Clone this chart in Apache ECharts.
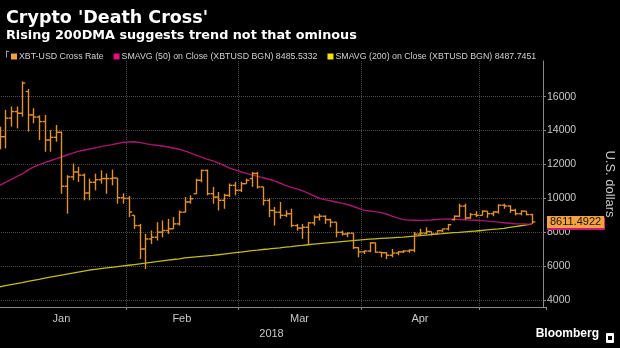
<!DOCTYPE html>
<html><head><meta charset="utf-8">
<script src="https://cdn.jsdelivr.net/npm/echarts@6/dist/echarts.min.js"></script>
<style>html,body{margin:0;padding:0;background:#000;}#c{width:620px;height:348px;}</style>
</head><body><div id="c"></div>
<script>
// ---- data ----
const monthNames = ['Jan','Feb','Mar','Apr','May'];
const labeledMonths = ['Jan','Feb','Mar','Apr'];
const janDays = [1,2,3,4,5,8,9,10,11,12,15,16,17,18,19,22,23,24,25,26,29,30,31];
const febDays = [1,2,5,6,7,8,9,12,13,14,15,16,19,20,21,22,23,26,27,28];
const marDays = [1,2,5,6,7,8,9,12,13,14,15,16,19,20,21,22,23,26,27,28,29,30];
const aprDays = [2,3,4,5,6,9,10,11,12,13,16,17,18,19,20,23,24,25,26,27,30];
const mayDays = [1,2,3,4,7,8,9,10,11,14,15,16];
const yearLabel = '2018';
const yTicks = [4000,6000,8000,10000,12000,14000,16000];

const priceOpen = [13800,13640,14730,15120,15020,16300,14920,14800,14530,13440,13600,13900,10720,11270,11560,11370,10320,10950,11100,11170,11170,11200,10040,10000,9000,8400,7020,7610,7710,8010,8110,8210,8500,9190,9790,10280,11070,11650,10280,10080,9890,10180,10770,10480,10870,11170,11470,10680,9880,9290,9190,9000,9100,8400,8250,8300,8560,8900,8950,8750,8600,8000,7900,7950,7100,6850,6900,7380,6830,6800,6650,6780,6850,6900,6950,7900,7950,8050,7900,8100,8200,8750,8950,9550,8850,9050,9000,9250,9100,9200,9600,9550,9300,9100,9250,9050];
const priceHigh = [14230,15220,15420,15420,16900,16450,15320,14900,14920,14030,14330,13940,11370,12060,11860,11470,11170,11460,11660,11470,11700,11200,10300,10150,9000,8500,7910,8110,8600,8700,8800,8900,9290,10080,10180,11170,11700,11700,10680,10380,10280,10880,10980,10980,11170,11560,11560,10680,9990,9500,9790,9300,9400,8500,8500,8600,9000,9100,9000,8800,8600,8110,8010,7950,7120,6930,7420,7400,6850,6830,7020,6900,6950,7000,8010,8210,8300,8050,8110,8210,8500,9000,9690,9690,9150,9250,9300,9250,9250,9650,9690,9590,9390,9290,9250,9090];
const priceLow = [12900,12950,14230,14130,14820,13940,14430,13440,12750,12750,13340,10280,9100,11070,10970,9890,9890,10480,10870,10280,10770,9690,9690,8900,8200,6430,5840,7320,7520,7710,7910,8200,8400,9190,9690,10280,10950,10180,9690,9290,9390,10080,10180,10380,10870,10680,10580,9590,8900,8400,8800,8900,8300,8100,7620,7320,8400,8700,8500,8300,7710,7810,7710,7020,6530,6720,6830,6800,6530,6430,6530,6650,6780,6800,6830,7810,7900,7810,7900,8010,8110,8700,8900,8750,8800,8900,9000,8850,8950,9100,9390,9150,9000,9000,9000,8500];
const priceClose = [13640,14730,15120,15020,16800,14920,14800,14530,13440,13600,13900,10720,11270,11560,11370,10320,10950,11100,11170,11170,11200,10040,10000,9200,8400,7020,7610,7710,8010,8110,8210,8500,9190,9790,9980,11070,11650,10280,10080,9890,10180,10770,10480,10870,11070,11470,10680,9880,9290,9190,9000,9100,8400,8250,8300,8560,8900,8950,8750,8600,8000,7900,7950,7100,6850,6900,7380,6830,6800,6650,6780,6850,6900,6950,7900,7950,8050,7900,8100,8200,8450,8950,9550,8850,9050,9000,9250,9100,9200,9600,9550,9300,9100,9250,9050,8611.4922];
const sma50 = [10770,10940,11110,11280,11440,11670,11850,11980,12110,12220,12330,12440,12560,12670,12770,12840,12910,12980,13050,13110,13170,13240,13300,13330,13340,13300,13230,13170,13130,13090,13030,12970,12900,12800,12680,12550,12430,12320,12210,12090,11950,11790,11680,11570,11480,11390,11300,11220,11130,11040,10910,10770,10650,10560,10460,10310,10160,10010,9930,9860,9790,9720,9640,9540,9420,9310,9260,9220,9180,9080,8960,8850,8750,8720,8710,8700,8710,8730,8760,8780,8790,8780,8760,8740,8720,8710,8690,8660,8630,8600,8570,8540,8510,8500,8490,8485.5332];
const sma200 = [4790,4860,4920,4980,5040,5110,5170,5230,5300,5360,5420,5480,5540,5600,5660,5720,5780,5820,5860,5900,5940,5980,6020,6060,6100,6140,6180,6230,6270,6320,6360,6400,6440,6490,6520,6550,6580,6610,6640,6680,6720,6760,6800,6840,6880,6920,6950,6990,7020,7060,7090,7130,7160,7200,7230,7270,7300,7330,7360,7390,7420,7450,7480,7510,7540,7570,7600,7620,7640,7660,7680,7700,7720,7750,7780,7810,7840,7870,7900,7920,7950,7980,8000,8030,8060,8080,8110,8140,8170,8200,8240,8290,8340,8390,8440,8487.7451];

// ---- build ----
const categories = [];
[[1,janDays],[2,febDays],[3,marDays],[4,aprDays],[5,mayDays]].forEach(function(p){
  p[1].forEach(function(d){ categories.push('2018-' + String(p[0]).padStart(2,'0') + '-' + String(d).padStart(2,'0')); });
});
const monthOf = function(s){ return parseInt(s.slice(5,7),10) - 1; };
const firstOfMonth = {};
categories.forEach(function(c,i){ if (i > 0 && monthOf(c) !== monthOf(categories[i-1])) firstOfMonth[i] = true; });
const labelAt = {};
labeledMonths.forEach(function(m){
  const mi = monthNames.indexOf(m);
  let first = -1, last = -1;
  categories.forEach(function(c,i){ if (monthOf(c) === mi) { if (first < 0) first = i; last = i; } });
  const b = (first + last + 1) / 2;
  if (Number.isInteger(b)) labelAt[b] = {text: m, shift: true};
  else labelAt[b - 0.5] = {text: m, shift: false};
});

const ohlc = priceClose.map(function(c,i){ return [i, priceOpen[i], priceHigh[i], priceLow[i], c]; });
const lastClose = priceClose[priceClose.length-1];
const last50 = sma50[sma50.length-1];
const last200 = sma200[sma200.length-1];
const nPrice = 'XBT-USD Cross Rate';
const n50 = 'SMAVG (50) on Close (XBTUSD BGN) ' + last50.toFixed(4);
const n200 = 'SMAVG (200) on Close (XBTUSD BGN) ' + last200.toFixed(4);

const priceColor = '#e0902c';
const gridLeft = -3, gridRightEdge = 546;
const bandW = (gridRightEdge - gridLeft) / categories.length;
const sans = '"Liberation Sans", Arial, sans-serif';
const labelGray = '#c8c8c8';

const chart = echarts.init(document.getElementById('c'), null, {renderer: 'canvas'});
chart.setOption({
  backgroundColor: '#000',
  animation: false,
  title: [
    {text: "Crypto 'Death Cross'", left: 1, top: 4, textStyle: {color: '#fff', fontFamily: '"DejaVu Sans", sans-serif', fontWeight: 'bold', fontSize: 17.5}},
    {text: 'Rising 200DMA suggests trend not that ominous', left: 1, top: 24, textStyle: {color: '#fff', fontFamily: '"DejaVu Sans", sans-serif', fontWeight: 'bold', fontSize: 12.8}},
    {text: 'Bloomberg', right: 16, bottom: 3, textStyle: {color: '#fff', fontFamily: sans, fontWeight: 'bold', fontSize: 12}}
  ],
  graphic: [
    {type: 'rect', right: 6, bottom: 5, shape: {width: 8, height: 10, r: 1}, style: {fill: '#fff'}},
    {type: 'rect', right: 8, bottom: 8, shape: {width: 4, height: 4}, style: {fill: '#000'}},
    {type: 'line', left: 4, top: 48, shape: {x1: 0.5, y1: 0, x2: 0.5, y2: 7}, style: {stroke: '#9a9a9a', lineWidth: 1}},
    {type: 'line', left: 4, top: 49, shape: {x1: 0, y1: 0.5, x2: 2.5, y2: 0.5}, style: {stroke: '#9a9a9a', lineWidth: 1}}
  ],
  legend: {
    left: 6, top: 47, itemWidth: 6, itemHeight: 6, itemGap: 10,
    textStyle: {color: '#d0d0d0', fontFamily: sans, fontSize: 8.8, padding: [0,0,0,-3]},
    data: [
      {name: nPrice, icon: 'rect', itemStyle: {color: '#f0a040'}},
      {name: n50, icon: 'rect', itemStyle: {color: '#e4107f'}},
      {name: n200, icon: 'rect', itemStyle: {color: '#eee600'}}
    ]
  },
  grid: {left: gridLeft, top: 61, width: gridRightEdge - gridLeft, bottom: 41, containLabel: false, outerBoundsMode: 'none'},
  xAxis: {
    type: 'category', data: categories, boundaryGap: true,
    name: yearLabel, nameLocation: 'middle', nameGap: 19,
    nameTextStyle: {color: labelGray, fontFamily: sans, fontSize: 11},
    axisLine: {show: true, lineStyle: {color: '#8a8a8a', width: 1}},
    axisTick: {show: true, length: 3, interval: function(i){ return !!firstOfMonth[i]; }, lineStyle: {color: '#8a8a8a'}},
    axisLabel: {
      color: labelGray, fontFamily: sans, fontSize: 11, margin: 6,
      interval: function(i){ return !!labelAt[i]; },
      formatter: function(v, i){ const L = labelAt[i]; if (!L) return ''; return L.shift ? '{s|' + L.text + '}' : '{n|' + L.text + '}'; },
      rich: {s: {padding: [0, bandW, 0, 0], color: labelGray, fontFamily: sans, fontSize: 11}, n: {color: labelGray, fontFamily: sans, fontSize: 11}}
    },
    splitLine: {show: true, showMaxLine: false, interval: function(i){ return !!firstOfMonth[i]; }, lineStyle: {color: '#4a4a4a', type: 'dotted'}}
  },
  yAxis: {
    type: 'value', position: 'right', offset: -3, min: 3600, max: 18100,
    name: 'U.S. dollars', nameLocation: 'middle', nameRotate: -90, nameGap: 60,
    nameTextStyle: {color: labelGray, fontFamily: sans, fontSize: 13},
    axisLine: {show: true, lineStyle: {color: '#8a8a8a'}},
    axisTick: {show: true, length: 3, customValues: yTicks, lineStyle: {color: '#8a8a8a'}},
    axisLabel: {color: labelGray, fontFamily: sans, fontSize: 10.5, margin: 4, customValues: yTicks, formatter: function(v){ return String(v); }},
    splitLine: {show: true, lineStyle: {color: '#4a4a4a', type: 'dotted'}}
  },
  series: [
    {
      name: n200, type: 'line', data: sma200, symbol: 'none', z: 2,
      itemStyle: {color: '#c3bb1e'}, lineStyle: {color: '#c3bb1e', width: 1.3}
    },
    {
      name: n50, type: 'line', data: sma50, symbol: 'none', z: 2, clip: false,
      itemStyle: {color: '#a8166f'}, lineStyle: {color: '#a8166f', width: 1.4},
      markLine: {
        silent: true, symbol: 'none', animation: false,
        lineStyle: {width: 0, color: 'rgba(0,0,0,0)'},
        label: {show: true, position: 'end', distance: 1, fontFamily: sans, fontSize: 11, padding: [1, 3, 0, 3]},
        data: [
          {yAxis: last50, label: {formatter: last50.toFixed(4), color: '#d0127a', backgroundColor: '#d0127a'}},
          {yAxis: lastClose, label: {formatter: lastClose.toFixed(4), color: '#111', backgroundColor: '#f4a340'}}
        ]
      }
    },
    {
      name: nPrice, type: 'custom', z: 3, data: ohlc,
      itemStyle: {color: priceColor},
      encode: {x: 0, y: [1,2,3,4]},
      renderItem: function(params, api){
        const xi = api.value(0);
        const o = api.coord([xi, api.value(1)]);
        const h = api.coord([xi, api.value(2)]);
        const l = api.coord([xi, api.value(3)]);
        const c = api.coord([xi, api.value(4)]);
        const t = api.size([1, 0])[0] * 0.5;
        const x = Math.round(o[0]) + 0.5;
        const st = {stroke: priceColor, lineWidth: 1.4};
        return {type: 'group', children: [
          {type: 'line', shape: {x1: x, y1: h[1], x2: x, y2: l[1]}, style: st},
          {type: 'line', shape: {x1: x - t, y1: o[1], x2: x, y2: o[1]}, style: st},
          {type: 'line', shape: {x1: x, y1: c[1], x2: x + t, y2: c[1]}, style: st}
        ]};
      }
    }
  ]
});
</script></body></html>
